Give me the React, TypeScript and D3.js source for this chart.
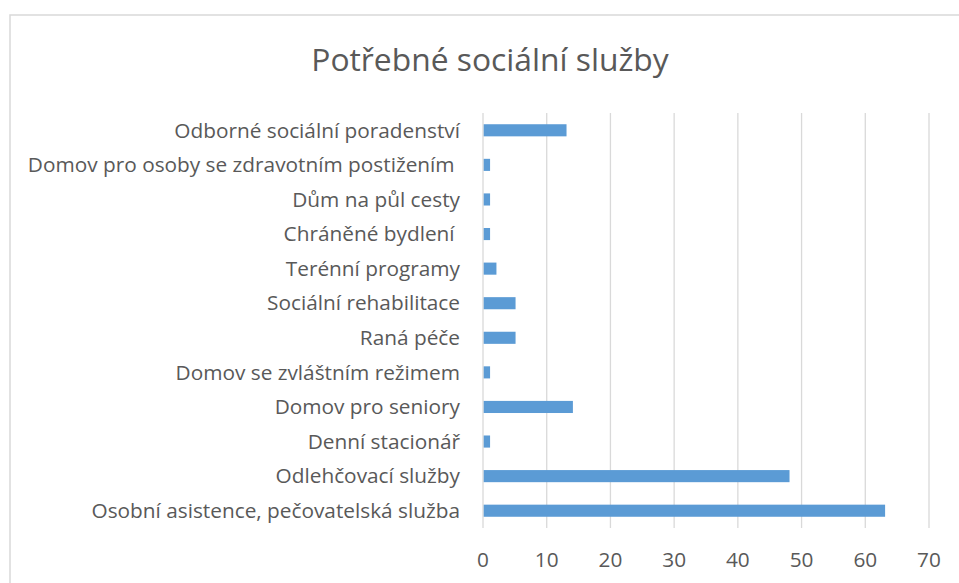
import React from "react";
import * as d3 from "d3";

const title = "Potřebné sociální služby";
const categories = [
  "Odborné sociální poradenství",
  "Domov pro osoby se zdravotním postižením ",
  "Dům na půl cesty",
  "Chráněné bydlení ",
  "Terénní programy",
  "Sociální rehabilitace",
  "Raná péče",
  "Domov se zvláštním režimem",
  "Domov pro seniory",
  "Denní stacionář",
  "Odlehčovací služby",
  "Osobní asistence, pečovatelská služba",
];
const values = [13, 1, 1, 1, 2, 5, 5, 1, 14, 1, 48, 63];
const xTicks = [0, 10, 20, 30, 40, 50, 60, 70];

const W = 959;
const H = 583;
const FONT = "'Open Sans', sans-serif";
const TEXT = "#595959";
const GRID = "#d9d9d9";
const BAR = "#5B9BD5";

export default function App() {
  const x = d3.scaleLinear().domain([0, 70]).range([483, 929]);
  const y = d3
    .scaleBand<string>()
    .domain(categories)
    .range([113, 528])
    .paddingInner(0.65)
    .paddingOuter(0.325);

  return (
    <div style={{ position: "absolute", left: 0, top: 0 }}>
      <svg width={W} height={H} style={{ display: "block", background: "#fff" }}>
        <rect x={10} y={15} width={W} height={H} fill="#fff" stroke={GRID} strokeWidth={1.5} />
        <text
          x={490}
          y={71}
          textAnchor="middle"
          fontFamily={FONT}
          fontSize={31.8}
          fill={TEXT}
        >
          {title}
        </text>
        {xTicks.map((t) => (
          <line key={"g" + t} x1={x(t)} x2={x(t)} y1={113} y2={528} stroke={GRID} strokeWidth={1.3} />
        ))}
        {categories.map((c, i) => (
          <rect
            key={"b" + i}
            x={x(0) + 0.7}
            y={y(c)!}
            width={x(values[i]) - x(0)}
            height={y.bandwidth()}
            fill={BAR}
          />
        ))}
        {categories.map((c) => (
          <text
            key={"l" + c}
            x={460}
            y={y(c)! + y.bandwidth() / 2}
            dy="0.35em"
            textAnchor="end"
            fontFamily={FONT}
            fontSize={20.8}
            fill={TEXT}
            style={{ whiteSpace: "pre" }}
          >
            {c}
          </text>
        ))}
        {xTicks.map((t) => (
          <text
            key={"t" + t}
            x={x(t)}
            y={560}
            dy="0.35em"
            textAnchor="middle"
            fontFamily={FONT}
            fontSize={20.8}
            fill={TEXT}
          >
            {t}
          </text>
        ))}
      </svg>
    </div>
  );
}
